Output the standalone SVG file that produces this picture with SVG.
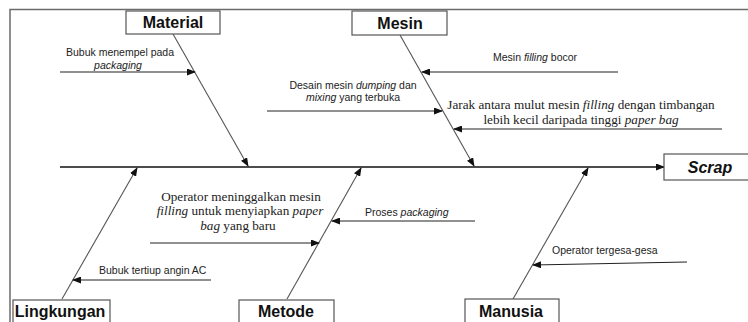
<svg xmlns="http://www.w3.org/2000/svg" width="748" height="322" viewBox="0 0 748 322">
<style>
.frame{stroke:#6b6b6b;stroke-width:1.5;fill:none}
.box{fill:#fff;stroke:#555;stroke-width:1.2}
.cat{font-family:"Liberation Sans",Arial,sans-serif;font-weight:bold;font-size:16px;fill:#111;text-anchor:middle}
.lbl{font-family:"Liberation Sans",Arial,sans-serif;font-size:10.5px;fill:#222}
.ser{font-family:"Liberation Serif","Times New Roman",serif;font-size:13.2px;fill:#222;text-anchor:middle}
.bone{stroke:#555;stroke-width:1.1;fill:none;marker-end:url(#ah)}
.arr{stroke:#222;stroke-width:1.1;fill:none;marker-end:url(#ah)}
.spine{stroke:#111;stroke-width:1.3;fill:none;marker-end:url(#ah)}
</style>
<defs>
<marker id="ah" markerUnits="userSpaceOnUse" markerWidth="9" markerHeight="7" refX="8" refY="3.5" orient="auto">
<path d="M0,0 L9,3.5 L0,7 z" fill="#111"/>
</marker>
</defs>
<rect width="748" height="322" fill="#fff"/>
<path class="frame" d="M10,322 L10,9.5 L748,9.5"/>
<g id="connectors">
<path class="spine" d="M60,167 L664,167"/>
<path class="bone" d="M173,34 L248,166"/>
<path class="bone" d="M400,35 L474,166"/>
<path class="bone" d="M62,299 L137,168"/>
<path class="bone" d="M287,299 L361,168"/>
<path class="bone" d="M513,299 L588,168"/>
<path class="arr" d="M60,72 L195,72"/>
<path class="arr" d="M618,72 L422,72"/>
<path class="arr" d="M267,111 L442,111"/>
<path class="arr" d="M722,129 L454,129"/>
<path class="arr" d="M150,243 L319,243"/>
<path class="arr" d="M475,221 L332,221"/>
<path class="arr" d="M687,262 L533,265"/>
<path class="arr" d="M211,280 L73,280"/>
</g>
<g id="material"><rect class="box" x="126" y="11" width="94" height="23"/><text class="cat" x="173" y="28">Material</text></g>
<g id="mesin"><rect class="box" x="352" y="11" width="95" height="24"/><text class="cat" x="400" y="28.5">Mesin</text></g>
<g id="scrap"><rect class="box" x="664" y="154" width="90" height="26"/><text class="cat" x="710" y="173" font-style="italic">Scrap</text></g>
<g id="lingkungan"><rect class="box" x="13" y="300" width="97" height="30"/><text class="cat" x="60" y="316.5">Lingkungan</text></g>
<g id="metode"><rect class="box" x="239" y="300" width="95" height="30"/><text class="cat" x="286" y="316.5">Metode</text></g>
<g id="manusia"><rect class="box" x="465" y="299" width="94" height="30"/><text class="cat" x="511" y="316.5">Manusia</text></g>
<g id="cause-bubuk-menempel"><text class="lbl" x="120" y="56" text-anchor="middle" font-size="11">Bubuk menempel pada</text><text class="lbl" x="118" y="69" text-anchor="middle" font-size="11" font-style="italic">packaging</text></g>
<g id="cause-mesin-filling"><text class="lbl" x="493" y="61">Mesin <tspan font-style="italic">filling</tspan> bocor</text></g>
<g id="cause-desain"><text class="lbl" x="353" y="89" text-anchor="middle">Desain mesin <tspan font-style="italic">dumping</tspan> dan</text><text class="lbl" x="353" y="101" text-anchor="middle"><tspan font-style="italic">mixing</tspan> yang terbuka</text></g>
<g id="cause-jarak"><text class="ser" x="581" y="109">Jarak antara mulut mesin <tspan font-style="italic">filling</tspan> dengan timbangan</text><text class="ser" x="581" y="124">lebih kecil daripada tinggi <tspan font-style="italic">paper bag</tspan></text></g>
<g id="cause-operator-meninggalkan"><text class="ser" x="241" y="201">Operator meninggalkan mesin</text><text class="ser" x="240" y="215"><tspan font-style="italic">filling</tspan> untuk menyiapkan <tspan font-style="italic">paper</tspan></text><text class="ser" x="238" y="229.5"><tspan font-style="italic">bag</tspan> yang baru</text></g>
<g id="cause-proses"><text class="lbl" x="365" y="216">Proses <tspan font-style="italic">packaging</tspan></text></g>
<g id="cause-tergesa"><text class="lbl" x="552" y="254">Operator tergesa-gesa</text></g>
<g id="cause-bubuk-tertiup"><text class="lbl" x="99" y="274">Bubuk tertiup angin AC</text></g>
</svg>
